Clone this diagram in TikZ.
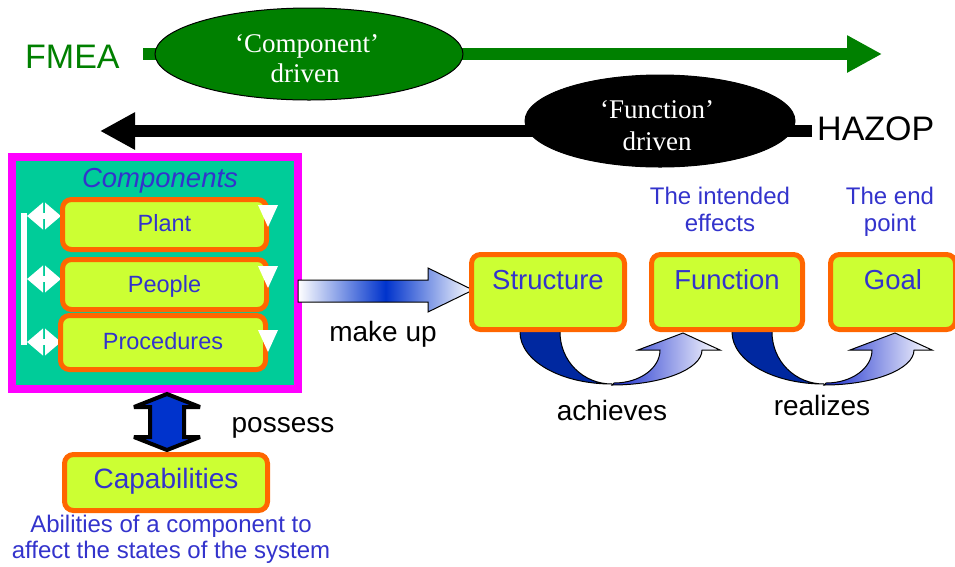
\documentclass[tikz,border=0pt]{standalone}
\usepackage{fontspec}
\setmainfont{Liberation Sans}
\newfontfamily\timesf{Liberation Serif}
\usetikzlibrary{arrows.meta,shapes.geometric,calc}
\definecolor{fgreen}{RGB}{0,128,0}
\definecolor{tblue}{RGB}{51,51,204}
\definecolor{borange}{RGB}{255,102,0}
\definecolor{blime}{RGB}{204,255,51}
\definecolor{cteal}{RGB}{0,204,153}
\definecolor{cmag}{RGB}{255,0,255}
\definecolor{dblue}{RGB}{0,40,160}
\definecolor{mblue}{RGB}{0,51,204}
\definecolor{gblue}{RGB}{25,45,205}
\newcommand\fs[1]{\fontsize{#1}{#1}\selectfont}
\begin{document}
\begin{tikzpicture}[x=1pt,y=-1pt,
  rbox/.style={draw=borange, line width=5pt, fill=blime, rounded corners=9pt,
    inner sep=0pt, outer sep=0pt, text=tblue},
  bluetxt/.style={text=tblue, inner sep=0pt, anchor=base, font=\fs{24}},
  blacktxt/.style={text=black, inner sep=0pt, anchor=base, font=\fs{28}},
  elltxt/.style={text=white, inner sep=0pt, anchor=base, font=\timesf\fs{27}},
  bigtxt/.style={inner sep=0pt, font=\fs{34}},
  wtri/.style={fill=white},
  curvedark/.style={fill=dblue, draw=black, line width=1pt},
  curvelight/.style={left color=gblue, right color=white, draw=black, line width=1pt},
  brk/.style={white, line width=6pt, {Triangle[width=26pt,length=16pt]}-{Triangle[width=26pt,length=16pt]}}
]
\useasboundingbox (0,0) rectangle (955,566);

% ---- FMEA (component driven) ----
\node[bigtxt, text=fgreen, anchor=base west] (fmea) at (25,68) {FMEA};
\coordinate (gstart) at (143,54);
\coordinate (gend) at (882,54);
\draw[fgreen, line width=12pt, -{Triangle[width=35pt,length=35pt]}] (gstart) -- (gend);
\node[ellipse, draw=black, line width=1pt, fill=fgreen, minimum width=308pt,
  minimum height=92pt, inner sep=0pt] (compell) at (309,54) {};
\node[elltxt] (ct1) at (307,52) {‘Component’};
\node[elltxt] (ct2) at (305,82) {driven};

% ---- HAZOP (function driven) ----
\node[bigtxt, text=black, anchor=base west] (hazop) at (817,140) {HAZOP};
\coordinate (bstart) at (812,131);
\coordinate (bend) at (100,131);
\draw[black, line width=12pt, -{Triangle[width=35pt,length=35pt]}] (bstart) -- (bend);
\node[ellipse, draw=black, line width=1pt, fill=black, minimum width=270pt,
  minimum height=92pt, inner sep=0pt] (funcell) at (660,121) {};
\node[elltxt] (ft1) at (657,118) {‘Function’};
\node[elltxt] (ft2) at (657,150) {driven};

% ---- Components box ----
\node[draw=cmag, line width=8pt, fill=cteal, minimum width=286pt, minimum height=232pt,
  inner sep=0pt, outer sep=0pt] (comps) at (155,273) {};
\node[text=tblue, inner sep=0pt, anchor=base, font=\itshape\fs{27.5}] (compt) at (160,187) {Components};

% bracket
\draw[white, line width=6pt] (24,213) -- (24,345);
\draw[brk] (27,216) -- (61,216);
\draw[brk] (27,279) -- (61,279);
\draw[brk] (27,342) -- (61,342);

\node[rbox, minimum width=204pt, minimum height=50pt, text height=20pt, text depth=6.5pt,
  font=\fs{23.5}] (plant) at (164.5,224.5) {Plant};
\node[rbox, minimum width=204pt, minimum height=50pt, text height=20pt, text depth=5pt,
  font=\fs{23.5}] (people) at (164.5,284.5) {People};
\node[rbox, minimum width=205pt, minimum height=54pt, text height=20pt, text depth=7pt,
  font=\fs{23.5}] (proc) at (163,342.5) {Procedures};
\fill[wtri] (258,205) -- (278,205) -- (268,227) -- cycle;
\fill[wtri] (258,266) -- (278,266) -- (268,288) -- cycle;
\fill[wtri] (258,330) -- (278,330) -- (268,352) -- cycle;

% ---- make up arrow ----
\draw[black, line width=1pt, line join=miter, left color=white, right color=white, middle color=mblue]
  (298,280) -- (428,280) -- (428,268) -- (473,290) -- (428,312) -- (428,302) -- (298,302) -- cycle;
\node[blacktxt] (makeup) at (383,341) {make up};

% ---- curved arrows ----
\foreach \dx in {0,212}{
\begin{scope}[xshift=\dx]
\draw[curvedark] (520,326) -- (520,332) .. controls (520,361) and (561,384) .. (612,384)
   .. controls (583,384) and (560,361) .. (560,332) -- (560,326);
\draw[curvelight] (612,385) .. controls (662,385) and (702,369) .. (702,350) -- (720,350)
   -- (683,333) -- (638,350) -- (660,350) .. controls (660,368) and (640,383) .. (614,383) -- cycle;
\end{scope}}

% ---- Structure / Function / Goal ----
\node[rbox, minimum width=153pt, minimum height=75pt, text height=20pt, text depth=26pt,
  font=\fs{27.5}] (str) at (548,292) {Structure};
\node[rbox, minimum width=151pt, minimum height=75pt, text height=20pt, text depth=26pt,
  font=\fs{27.5}] (fun) at (727,292) {Function};
\node[rbox, minimum width=125pt, minimum height=75pt, text height=20pt, text depth=26pt,
  font=\fs{27.5}] (goal) at (893,292) {Goal};

\node[bluetxt] (int1) at (720,204) {The intended};
\node[bluetxt] (int2) at (720,231) {effects};
\node[bluetxt] (end1) at (890,204) {The end};
\node[bluetxt] (end2) at (890,231) {point};

\node[blacktxt] (ach) at (612,420) {achieves};
\node[blacktxt] (rea) at (822,415) {realizes};

% ---- Capabilities ----
\draw[line width=4pt, fill=mblue, line join=miter, miter limit=3]
  (167,394) -- (200,407) -- (184,407) -- (184,437) -- (200,437) -- (167,450)
  -- (134,437) -- (150,437) -- (150,407) -- (134,407) -- cycle;
\node[blacktxt] (poss) at (283,432) {possess};
\node[rbox, minimum width=203pt, minimum height=56pt, text height=20pt, text depth=9pt,
  font=\fs{28}] (cap) at (166,482.5) {Capabilities};
\node[bluetxt] (ab1) at (171,532) {Abilities of a component to};
\node[bluetxt] (ab2) at (171,558) {affect the states of the system};
\end{tikzpicture}
\end{document}
